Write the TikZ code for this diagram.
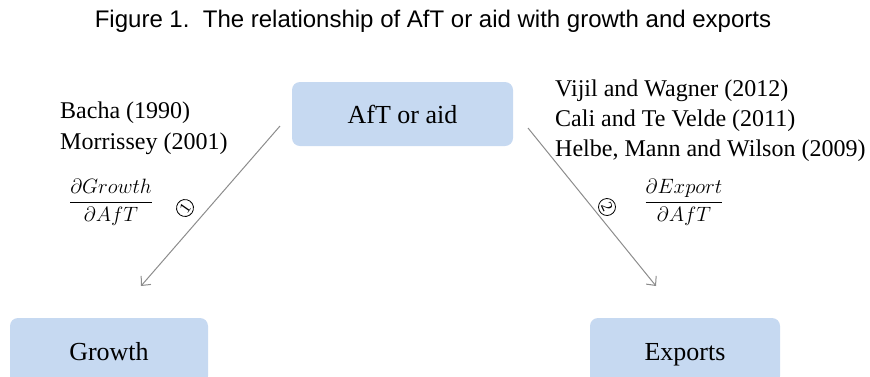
\documentclass[tikz,border=0pt]{standalone}
\usepackage{fontspec}
\setmainfont{Liberation Serif}
\newfontfamily\titlefont{Liberation Sans}
\usetikzlibrary{arrows.meta}
\definecolor{boxblue}{HTML}{C6D9F1}
\definecolor{arrowgray}{HTML}{8C8C8C}
\tikzset{
  varbox/.style={fill=boxblue, rounded corners=8pt, minimum height=66pt, text height=19pt, text depth=1pt, font=\fontsize{26}{30}\selectfont},
  cite/.style={anchor=base west, inner sep=0pt, font=\fontsize{24}{30}\selectfont},
  link/.style={draw=arrowgray, line width=1pt, -{Straight Barb[length=7pt,width=13pt]}},
  stepno/.style={circle, draw, minimum size=17pt, inner sep=0pt, line width=0.8pt, font=\fontsize{16}{16}\selectfont},
  deriv/.style={font=\fontsize{21}{25}\selectfont}
}
\begin{document}
\begin{tikzpicture}[x=1pt, y=-1pt]
    \useasboundingbox (0,0) rectangle (870,376);
    \clip (0,0) rectangle (870,376);
    % title
    \node[font=\titlefont\fontsize{24}{28}\selectfont] (title) at (433,21) {Figure 1.\ \ The relationship of AfT or aid with growth and exports};
    % boxes
    \node[varbox, minimum width=221pt, minimum height=64pt] (aid) at (402.5,114) {AfT or aid};
    \node[varbox, minimum width=198pt] (growth) at (109,351) {Growth};
    \node[varbox, minimum width=190pt] (exports) at (685,351) {Exports};
    % studies
    \node[cite] (bacha) at (60,118) {Bacha (1990)};
    \node[cite] (morrissey) at (60,149) {Morrissey (2001)};
    \node[cite] (vijil) at (555,96) {Vijil and Wagner (2012)};
    \node[cite] (cali) at (555,126) {Cali and Te Velde (2011)};
    \node[cite] (helbe) at (555,156) {Helbe, Mann and Wilson (2009)};
    % arrows
    \coordinate (aidL) at (280,126);
    \coordinate (growthT) at (141,286);
    \coordinate (aidR) at (528,128);
    \coordinate (exportsT) at (656,286);
    \draw[link] (aidL) -- (growthT);
    \draw[link] (aidR) -- (exportsT);
    \node[stepno, rotate=55] (one) at (185,208) {1};
    \node[stepno, rotate=-65] (two) at (607,207) {2};
    \node[deriv] (dgrowth) at (111,202) {$\displaystyle\frac{\partial Growth}{\partial AfT}$};
    \node[deriv] (dexport) at (684,202) {$\displaystyle\frac{\partial Export}{\partial AfT}$};
\end{tikzpicture}
\end{document}
